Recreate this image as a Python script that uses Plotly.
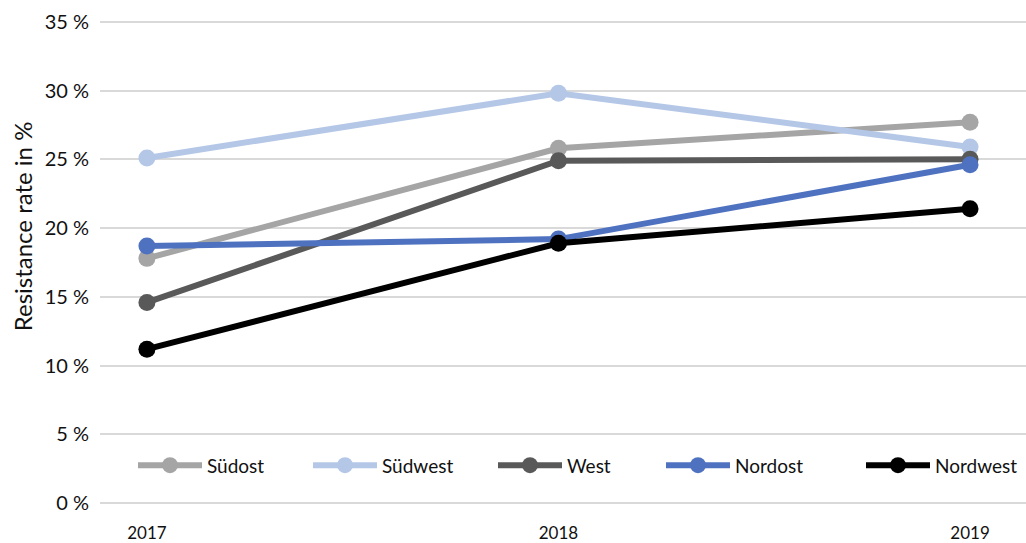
import plotly.graph_objects as go

years = [2017, 2018, 2019]
year_labels = ["2017", "2018", "2019"]
series_names = ["Südost", "Südwest", "West", "Nordost", "Nordwest"]
suedost = [17.8, 25.8, 27.7]
suedwest = [25.1, 29.8, 25.9]
west = [14.6, 24.9, 25.0]
nordost = [18.7, 19.2, 24.6]
nordwest = [11.2, 18.9, 21.4]
y_ticks = [0, 5, 10, 15, 20, 25, 30, 35]
y_tick_labels = ["0\u202f%", "5\u202f%", "10\u202f%", "15\u202f%", "20\u202f%", "25\u202f%", "30\u202f%", "35\u202f%"]
y_title = "Resistance rate in %"

colors = ["#a5a5a5", "#b4c7e7", "#595959", "#4f72c0", "#000000"]
values = [suedost, suedwest, west, nordost, nordwest]
legend_px = [133, 308, 493, 661, 861]  # left px of each legend

fig = go.Figure()
for i, (name, vals, col) in enumerate(zip(series_names, values, colors)):
    lg = "legend" if i == 0 else f"legend{i+1}"
    fig.add_trace(go.Scatter(
        x=years, y=vals, name=name, mode="lines+markers",
        line=dict(color=col, width=6),
        marker=dict(color=col, size=17),
        legend=lg, showlegend=True,
    ))

L, R, T, B = 100, 0, 19, 33
W, H = 1026, 543
pw = W - L - R
ph = H - T - B
leg_y = (H - B - 469) / ph
layout_legends = {}
for i, px in enumerate(legend_px):
    key = "legend" if i == 0 else f"legend{i+1}"
    layout_legends[key] = dict(
        x=(px - L) / pw, y=leg_y, xanchor="left", yanchor="middle",
        orientation="h", itemwidth=64, bgcolor="rgba(0,0,0,0)",
        font=dict(family="Lato", size=19, color="#111111"),
    )

fig.update_layout(
    width=W, height=H,
    margin=dict(l=L, r=R, t=T, b=B),
    plot_bgcolor="white", paper_bgcolor="white",
    font=dict(family="Lato", color="#111111"),
    showlegend=True,
    **layout_legends,
)
fig.add_annotation(
    text=y_title, textangle=-90, xref="paper", yref="paper",
    x=(22 - L) / pw, y=(H - B - 228) / ph, xanchor="center", yanchor="middle",
    showarrow=False, font=dict(family="Lato", size=24, color="#111111"),
)
fig.update_xaxes(
    range=[2016.886, 2019.136], tickvals=years, ticktext=year_labels,
    showgrid=False, zeroline=False, showline=False,
    ticks="outside", ticklen=12, tickcolor="rgba(0,0,0,0)",
    tickfont=dict(family="Lato", size=17, color="#111111"),
)
fig.update_yaxes(
    range=[-0.2, 35.2], tickvals=y_ticks, ticktext=y_tick_labels,
    showgrid=True, gridcolor="#d9d9d9", gridwidth=2, zeroline=False, showline=False,
    ticks="outside", ticklen=6, tickcolor="rgba(0,0,0,0)",
    tickfont=dict(family="Lato", size=20, color="#111111"),
)
fig.write_html("out.html")
